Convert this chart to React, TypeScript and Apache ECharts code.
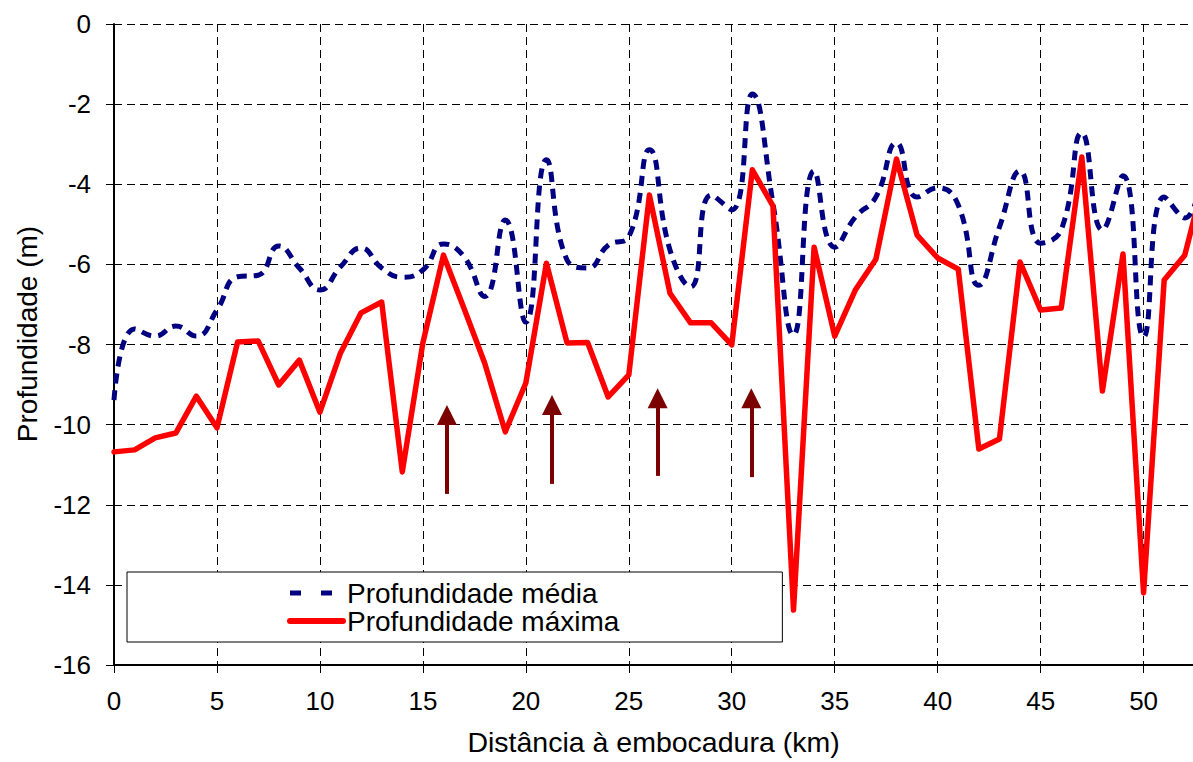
import React, { useEffect, useRef } from "react";
import * as echarts from "echarts";

const km = [0,1,2,3,4,5,6,7,8,9,10,11,12,13,14,15,16,17,18,19,20,21,22,23,24,25,26,27,28,29,30,31,32,33,34,35,36,37,38,39,40,41,42,43,44,45,46,47,48,49,50,51,52,53];

const profMedia = [-9.39,-7.61,-7.79,-7.54,-7.79,-7.14,-6.31,-6.27,-5.54,-6.09,-6.64,-6.06,-5.59,-6.09,-6.32,-6.14,-5.49,-5.81,-6.8,-4.89,-7.44,-3.39,-5.89,-6.09,-5.52,-5.31,-3.14,-5.64,-6.56,-4.27,-4.64,-1.75,-4.47,-7.76,-3.67,-5.57,-4.82,-4.32,-2.97,-4.32,-4.09,-4.52,-6.52,-5.07,-3.67,-5.47,-5.14,-2.72,-5.14,-3.79,-7.81,-4.32,-4.84,-3.0];

const profMaxima = [-10.68,-10.63,-10.33,-10.21,-9.29,-10.08,-7.94,-7.91,-9.01,-8.39,-9.69,-8.21,-7.21,-6.94,-11.18,-7.96,-5.77,-7.1,-8.46,-10.18,-8.96,-5.97,-7.96,-7.95,-9.31,-8.76,-4.27,-6.72,-7.46,-7.46,-8.01,-3.64,-4.54,-14.63,-5.57,-7.79,-6.64,-5.87,-3.37,-5.27,-5.84,-6.12,-10.61,-10.36,-5.94,-7.14,-7.09,-3.32,-9.16,-5.74,-14.2,-6.39,-5.77,-3.75];

// arrows: [km, shaft bottom, head centre]
const arrowKm = [16.17, 21.27, 26.4, 30.95];
const arrowFrom = [-11.73, -11.48, -11.28, -11.31];
const arrowTo = [-9.76, -9.51, -9.34, -9.34];

const seriesNames = ["Profundidade média", "Profundidade máxima"];
const xTitle = "Distância à embocadura (km)";
const yTitle = "Profundidade (m)";

const FONT = "'Liberation Sans', Arial, sans-serif";
const ARROW = "#7b0000";

export default function App() {
  const ref = useRef<HTMLDivElement>(null);
  useEffect(() => {
    if (!ref.current) return;
    const chart = echarts.init(ref.current, null, { renderer: "svg" });
    const gridLine = { color: "#000", width: 1, type: [8, 5] as any };
    chart.setOption({
      animation: false,
      backgroundColor: "#fff",
      textStyle: { fontFamily: FONT, color: "#000" },
      grid: { left: 114, top: 24, right: 0, bottom: 97, containLabel: false },
      legend: {
        show: true,
        orient: "vertical",
        left: 127,
        top: 572,
        itemWidth: 53,
        itemHeight: 25,
        itemGap: 0,
        selectedMode: false,
        padding: [7, 163, 7, 160],
        borderColor: "#000",
        borderWidth: 1,
        borderRadius: 0,
        backgroundColor: "#fff",
        itemStyle: { opacity: 0 },
        textStyle: { fontSize: 28, lineHeight: 25, color: "#000", fontFamily: FONT, padding: [0, 0, 0, -1] },
        data: [
          { name: seriesNames[0], lineStyle: { color: "#000080", width: 5, type: [11, 20], cap: "butt" } },
          { name: seriesNames[1], lineStyle: { color: "#ff0000", width: 6, type: "solid", cap: "round" } },
        ],
      },
      xAxis: {
        type: "value",
        min: 0,
        max: 52.4,
        interval: 5,
        name: xTitle,
        nameLocation: "middle",
        nameGap: 62,
        nameTextStyle: { fontSize: 28.5, color: "#000", fontFamily: FONT },
        axisLine: { show: true, onZero: false, lineStyle: { color: "#000", width: 2 } },
        axisTick: { show: true, inside: false, length: 8, lineStyle: { color: "#000", width: 1 } },
        axisLabel: { show: true, fontSize: 26, color: "#000", margin: 23, showMaxLabel: false, fontFamily: FONT },
        splitLine: { show: true, lineStyle: gridLine },
      },
      yAxis: {
        type: "value",
        min: -16,
        max: 0,
        interval: 2,
        axisLine: { show: true, onZero: false, lineStyle: { color: "#000", width: 2 } },
        axisTick: { show: true, inside: false, length: 8, lineStyle: { color: "#000", width: 1 } },
        axisLabel: { show: true, fontSize: 26, color: "#000", margin: 23, fontFamily: FONT },
        splitLine: { show: true, lineStyle: gridLine },
      },
      graphic: [
        {
          type: "text",
          x: 27,
          y: 334,
          rotation: Math.PI / 2,
          style: {
            text: yTitle,
            fontSize: 28,
            fontFamily: FONT,
            fill: "#000",
            align: "center",
            verticalAlign: "middle",
          },
        },
      ],
      series: [
        {
          name: seriesNames[0],
          type: "line",
          data: km.map((k, i) => [k, profMedia[i]]),
          smooth: 0.5,
          symbol: "none",
          showSymbol: false,
          clip: true,
          color: "#000080",
          lineStyle: { color: "#000080", width: 5, type: [10, 7], cap: "butt" },
          z: 2,
        },
        {
          name: seriesNames[1],
          type: "line",
          data: km.map((k, i) => [k, profMaxima[i]]),
          smooth: false,
          symbol: "none",
          showSymbol: false,
          clip: true,
          color: "#ff0000",
          lineStyle: { color: "#ff0000", width: 5.5, join: "round", cap: "round" },
          z: 3,
        },
        {
          name: "arrows",
          type: "line",
          data: [],
          symbol: "none",
          color: ARROW,
          z: 4,
          markLine: {
            silent: true,
            animation: false,
            symbol: ["none", "triangle"],
            symbolSize: 20,
            label: { show: false },
            emphasis: { disabled: true },
            itemStyle: { color: ARROW },
            lineStyle: { color: ARROW, width: 4, type: "solid" },
            data: arrowKm.map((k, i) => [
              { coord: [k, arrowFrom[i]] },
              { coord: [k, arrowTo[i]] },
            ]),
          },
        },
      ],
    });
    return () => chart.dispose();
  }, []);
  return (
    <div
      ref={ref}
      style={{ position: "absolute", left: 0, top: 0, width: 1193, height: 762 }}
    />
  );
}
